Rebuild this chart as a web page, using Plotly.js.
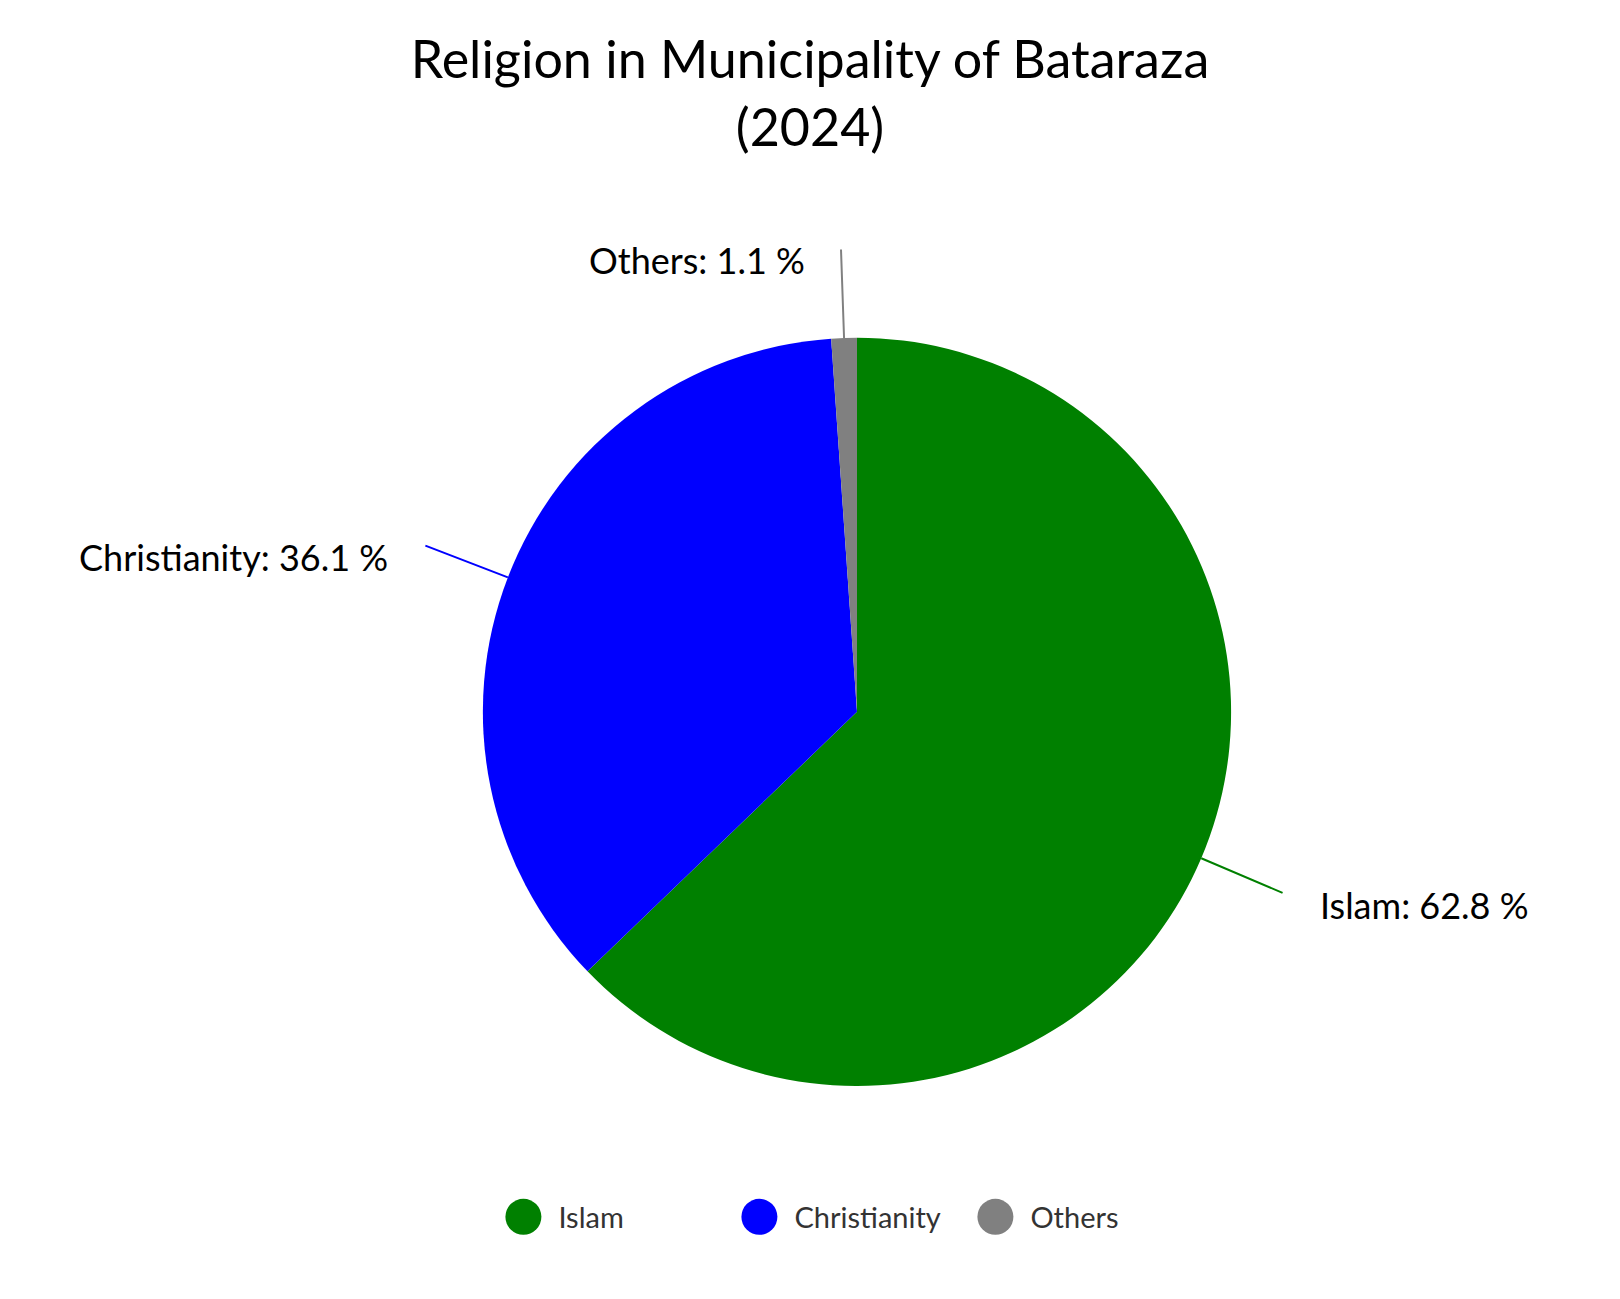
<!DOCTYPE html>
<html>
<head>
<meta charset="utf-8">
<script src="https://cdn.plot.ly/plotly-3.0.1.min.js"></script>
<style>
  html, body { margin: 0; padding: 0; background: #fff; }
  #chart { width: 1620px; height: 1299px; }
</style>
</head>
<body>
<div id="chart"></div>
<script>
const religions = ["Islam", "Christianity", "Others"];
const shares = [62.8, 36.1, 1.1];
const sliceColors = ["#008000", "#0000ff", "#808080"];

const W = 1620, H = 1299;
const handFont = "Lato, 'Open Sans', sans-serif";

// pie placement (paper fractions)
const pieCx = 0.529, pieCy = 0.452, pieHalf = 0.288;
const rPx = pieHalf * H;

const pieTrace = {
    type: "pie",
    labels: religions,
    values: shares,
    sort: false,
    direction: "clockwise",
    rotation: 0,
    marker: { colors: sliceColors, line: { width: 0 } },
    textinfo: "none",
    hoverinfo: "label+percent",
    showlegend: false,
    domain: { x: [pieCx - 0.36, pieCx + 0.36], y: [pieCy - pieHalf, pieCy + pieHalf] }
};

// circle markers for the legend (pie legend draws squares)
const legendTraces = religions.map(function (name, i) {
    return {
        type: "scatter",
        mode: "markers",
        x: [null],
        y: [null],
        name: name,
        marker: { color: sliceColors[i], size: 16, symbol: "circle" },
        hoverinfo: "skip"
    };
});

// outside labels with leader lines, placed from each slice's mid angle
const total = shares.reduce(function (a, b) { return a + b; }, 0);
const ext = 90, gap = 34;
const labelNotes = [];
let cum = 0;
shares.forEach(function (v, i) {
    const mid = (cum + v / 2) / total * 2 * Math.PI;
    cum += v;
    const s = Math.sin(mid), c = Math.cos(mid);
    const px = pieCx + rPx * s / W, py = pieCy + rPx * c / H;
    const side = s > 0 ? 1 : -1;
    // leader line
    labelNotes.push({
        xref: "paper", yref: "paper",
        x: px, y: py,
        ax: ext * s, ay: -ext * c,
        text: "",
        showarrow: true,
        arrowhead: 0,
        arrowwidth: 2,
        arrowcolor: sliceColors[i],
        standoff: 0
    });
    // label text
    labelNotes.push({
        xref: "paper", yref: "paper",
        x: px, y: py,
        xshift: ext * s + side * gap,
        yshift: ext * c - 12,
        text: religions[i] + ": " + v + " %",
        showarrow: false,
        xanchor: side > 0 ? "left" : "right",
        yanchor: "middle",
        font: { family: handFont, size: 36, color: "#000" }
    });
});

Plotly.newPlot("chart", [pieTrace].concat(legendTraces), {
    width: W,
    height: H,
    paper_bgcolor: "#fff",
    plot_bgcolor: "#fff",
    margin: { l: 0, r: 0, t: 0, b: 0 },
    title: {
        text: "Religion in Municipality of Bataraza<br>(2024)",
        font: { family: handFont, size: 52, color: "#000" },
        x: 0.5,
        xanchor: "center",
        xref: "paper",
        yref: "container",
        y: 0.94,
        yanchor: "middle"
    },
    xaxis: { visible: false },
    yaxis: { visible: false },
    annotations: labelNotes,
    showlegend: true,
    legend: {
        orientation: "h",
        x: 0.52,
        xanchor: "center",
        y: 1 - 1217 / H,
        yanchor: "middle",
        font: { family: handFont, size: 29, color: "#333" },
        itemwidth: 60,
        entrywidth: 161,
        entrywidthmode: "pixels"
    }
}, { displayModeBar: false }).then(function () {
    // legend symbols are capped at 16px, scale them up to the big dots
    document.querySelectorAll("#chart .legend path.scatterpts").forEach(function (p) {
        const t = p.getAttribute("transform") || "";
        p.setAttribute("transform", t + " scale(2.25)");
    });
});
</script>
</body>
</html>
